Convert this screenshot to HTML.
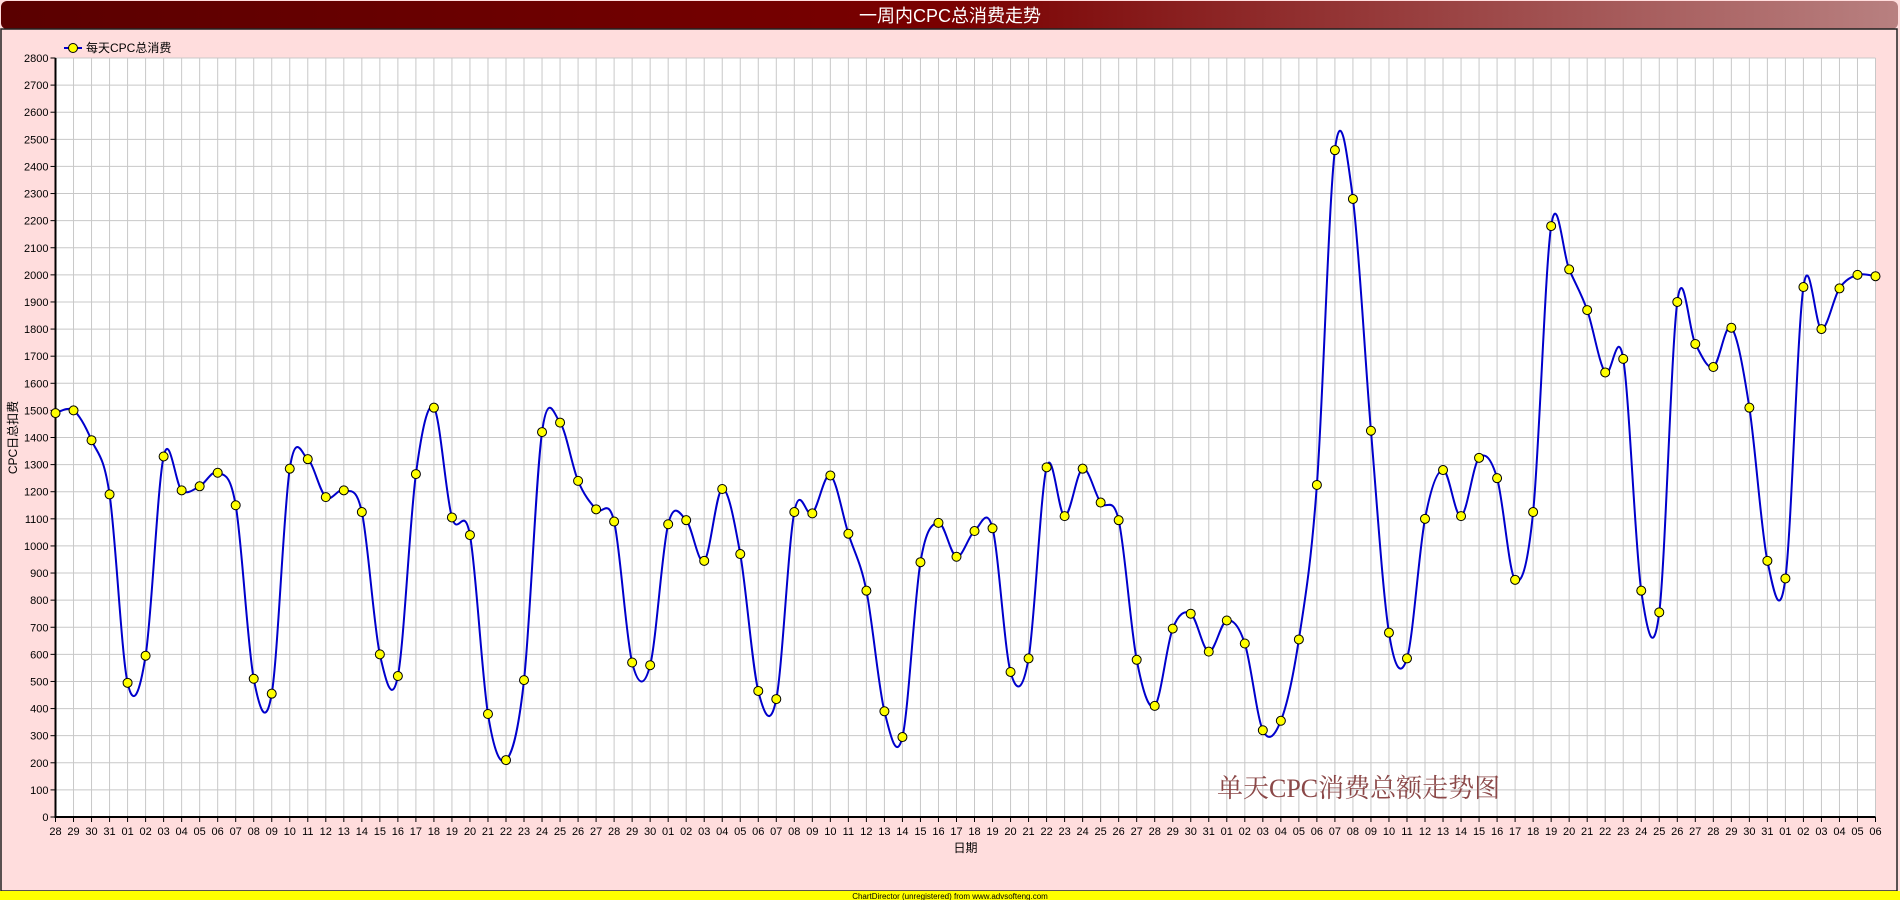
<!DOCTYPE html>
<html><head><meta charset="utf-8"><style>
html,body{margin:0;padding:0;width:1900px;height:900px;overflow:hidden;background:#ffdddd}
svg{display:block}
text{font-family:"Liberation Sans","Noto Sans CJK SC",sans-serif}
</style></head><body>
<svg id="chart" width="1900" height="900" xmlns="http://www.w3.org/2000/svg">
<defs><linearGradient id="tg" x1="0" x2="1" y1="0" y2="0"><stop offset="0" stop-color="#5a0000"/><stop offset="0.5" stop-color="#7a0000"/><stop offset="1" stop-color="#b88080"/></linearGradient></defs>
<rect x="0" y="0" width="1900" height="900" fill="#ffdddd"/>
<rect x="1" y="1" width="1897" height="28" rx="6" fill="url(#tg)"/>
<text x="950" y="22" font-size="18" fill="#ffffff" text-anchor="middle">一周内CPC总消费走势</text>
<rect x="1" y="29" width="1896" height="862" fill="none" stroke="#222" stroke-width="1.5"/>
<rect x="0" y="891" width="1900" height="9" fill="#ffff00"/>
<text x="950" y="899" font-size="8" fill="#000" text-anchor="middle">ChartDirector (unregistered) from www.advsofteng.com</text>
<g id="plot"></g>
</svg>
<script>
const categories=["28","29","30","31","01","02","03","04","05","06","07","08","09","10","11","12","13","14","15","16","17","18","19","20","21","22","23","24","25","26","27","28","29","30","01","02","03","04","05","06","07","08","09","10","11","12","13","14","15","16","17","18","19","20","21","22","23","24","25","26","27","28","29","30","31","01","02","03","04","05","06","07","08","09","10","11","12","13","14","15","16","17","18","19","20","21","22","23","24","25","26","27","28","29","30","31","01","02","03","04","05","06"];
const values=[1490,1500,1390,1190,495,595,1330,1205,1220,1270,1150,510,455,1285,1320,1180,1205,1125,600,520,1265,1510,1105,1040,380,210,505,1420,1455,1240,1135,1090,570,560,1080,1095,945,1210,970,465,435,1125,1120,1260,1045,835,390,295,940,1085,960,1055,1065,535,585,1290,1110,1285,1160,1095,580,410,695,750,610,725,640,320,355,655,1225,2460,2280,1425,680,585,1100,1280,1110,1325,1250,875,1125,2180,2020,1870,1640,1690,835,755,1900,1745,1660,1805,1510,945,880,1955,1800,1950,2000,1995];
const yTicks=[0,100,200,300,400,500,600,700,800,900,1000,1100,1200,1300,1400,1500,1600,1700,1800,1900,2000,2100,2200,2300,2400,2500,2600,2700,2800];
const seriesName="每天CPC总消费";
const L=55.5,R=1875.5,T=58,B=817,YMAX=2800;
const NS="http://www.w3.org/2000/svg";
const g=document.getElementById('plot');
function X(i){return L+i*(R-L)/(categories.length-1);}
function Y(v){return B-v*(B-T)/YMAX;}
function mk(t,a,p){const e=document.createElementNS(NS,t);for(const k in a)e.setAttribute(k,a[k]);(p||g).appendChild(e);return e;}
const bg=mk('rect',{x:L,y:T,width:R-L,height:B-T,fill:'#ffffff'});


yTicks.forEach(v=>{
 const ln=mk('line',{x1:L,x2:R,y1:Y(v),y2:Y(v),stroke:'#c8c8c8','stroke-width':1});
 
 
 const tk=mk('line',{x1:L-5,x2:L,y1:Y(v),y2:Y(v),stroke:'#000','stroke-width':1});
 
 
 const tx=mk('text',{x:L-7,y:Y(v)+4,'font-size':11,'text-anchor':'end',fill:'#000'});
 tx.textContent=v;
 
 
});
categories.forEach((c,i)=>{
 const ln=mk('line',{x1:X(i),x2:X(i),y1:T,y2:B,stroke:'#c8c8c8','stroke-width':1});
 
 
 const tk=mk('line',{x1:X(i),x2:X(i),y1:B,y2:B+5,stroke:'#000','stroke-width':1});
 
 
 const tx=mk('text',{x:X(i),y:B+18,'font-size':11,'text-anchor':'middle',fill:'#000'});
 tx.textContent=c;
 
 
});
const ax=mk('path',{d:`M${L},${T} L${L},${B} L${R},${B}`,stroke:'#000','stroke-width':2,fill:'none'});


const yt=mk('text',{x:0,y:0,'font-size':12,'text-anchor':'middle',transform:`translate(17,${(T+B)/2}) rotate(-90)`});
yt.textContent='CPC日总扣费';


const xt=mk('text',{x:(L+R)/2,y:852,'font-size':12,'text-anchor':'middle'});
xt.textContent='日期';


const wm=mk('text',{x:1217,y:797,'font-size':26,fill:'#8b4848',style:'font-family:"Liberation Serif","Noto Serif CJK SC",serif'});
wm.textContent='单天CPC消费总额走势图';


// spline
const P=values.map((v,i)=>[X(i),Y(v)]);
let d=`M${P[0][0]},${P[0][1]}`;
for(let i=0;i<P.length-1;i++){
 const p0=P[Math.max(i-1,0)],p1=P[i],p2=P[i+1],p3=P[Math.min(i+2,P.length-1)];
 const c1=[p1[0]+(p2[0]-p0[0])/6,p1[1]+(p2[1]-p0[1])/6];
 const c2=[p2[0]-(p3[0]-p1[0])/6,p2[1]-(p3[1]-p1[1])/6];
 d+=` C${c1[0]},${c1[1]} ${c2[0]},${c2[1]} ${p2[0]},${p2[1]}`;
}
const line=mk('path',{d:d,stroke:'#0000cc','stroke-width':2,fill:'none'});


values.forEach((v,i)=>{
 const c=mk('circle',{cx:X(i),cy:Y(v),r:4.5,fill:'#ffff00',stroke:'#000','stroke-width':1});
 
 
});
// legend
const lg=mk('line',{x1:64,x2:82,y1:48,y2:48,stroke:'#0000cc','stroke-width':2});


const lc=mk('circle',{cx:73,cy:48,r:4.5,fill:'#ffff00',stroke:'#000','stroke-width':1});


const lt=mk('text',{x:86,y:52,'font-size':12,fill:'#000'});
lt.textContent=seriesName;


</script>
</body></html>
